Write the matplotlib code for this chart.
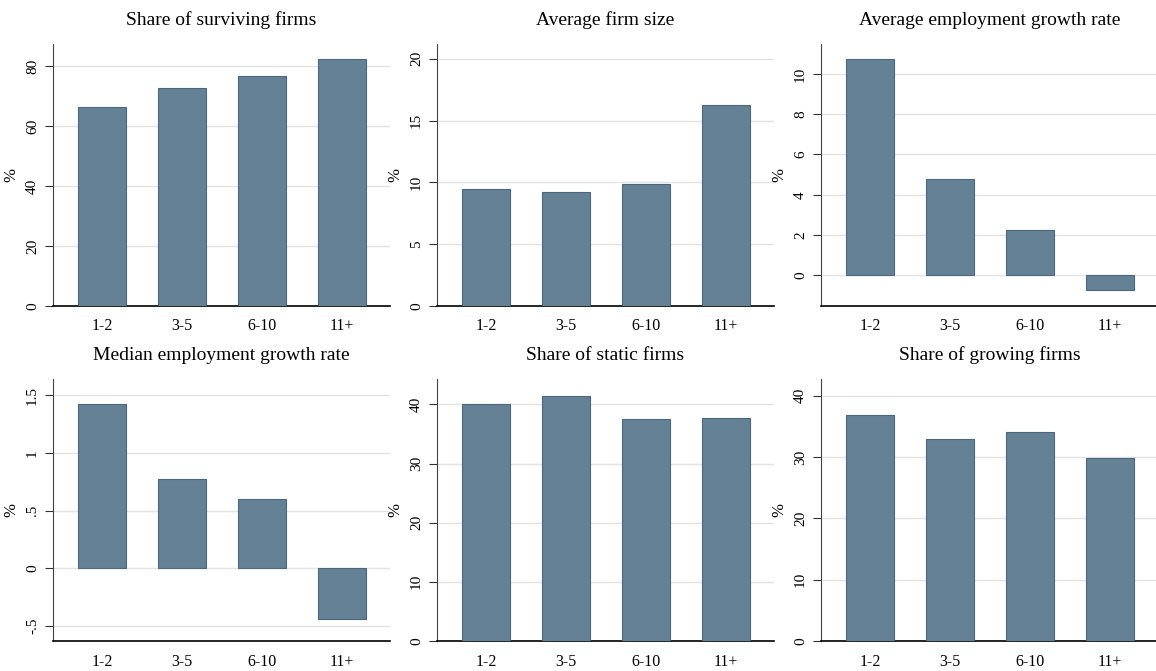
import numpy as np
import matplotlib
matplotlib.use("Agg")
from matplotlib import pyplot as plt
from matplotlib.ticker import FuncFormatter

# Firm age groups and indicators
age_groups = ['1-2', '3-5', '6-10', '11+']

surviving = [66.2, 72.8, 76.7, 82.2]
firm_size = [9.43, 9.19, 9.87, 16.27]
avg_growth = [10.73, 4.78, 2.23, -0.73]
median_growth = [1.42, 0.774, 0.598, -0.437]
static = [40.15, 41.5, 37.5, 37.7]
growing = [36.9, 32.95, 34.1, 29.75]

titles = ['Share of surviving firms', 'Average firm size',
          'Average employment growth rate', 'Median employment growth rate',
          'Share of static firms', 'Share of growing firms']
series = [surviving, firm_size, avg_growth, median_growth, static, growing]
yticks = [[0, 20, 40, 60, 80], [0, 5, 10, 15, 20], [0, 2, 4, 6, 8, 10],
          [-0.5, 0, 0.5, 1, 1.5], [0, 10, 20, 30, 40], [0, 10, 20, 30, 40]]
ylims = [(0, 87.3), (0, 21.2), (-1.53, 11.49), (-0.63, 1.64), (0, 44.3), (0, 42.7)]

bar_color = '#648196'
edge_color = '#4a6780'
plt.rcParams['font.family'] = ['Liberation Serif', 'DejaVu Serif']


def stata_fmt(v, pos):
    # Stata style: drop leading zero, no trailing .0
    s = ('%g' % v)
    if s.startswith('0.'):
        s = s[1:]
    elif s.startswith('-0.'):
        s = '-' + s[2:]
    return s


fig = plt.figure(figsize=(11.56, 6.71), dpi=100)
W, H = 1156, 671
lefts = [53, 437, 821]
tops = [44, 379]
aw, ah = 337, 262

x = np.arange(1, len(age_groups) + 1)
for i, (vals, title) in enumerate(zip(series, titles)):
    r, c = divmod(i, 3)
    ax = fig.add_axes([lefts[c] / W, 1 - (tops[r] + ah) / H, aw / W, ah / H])
    ax.bar(x, vals, width=0.6, color=bar_color, edgecolor=edge_color,
           linewidth=0.8, zorder=3)
    ax.set_xlim(0.39, 4.6)
    ax.set_ylim(*ylims[i])
    ax.set_yticks(yticks[i])
    ax.yaxis.set_major_formatter(FuncFormatter(stata_fmt))
    ax.set_xticks(x)
    ax.set_xticklabels(age_groups)
    ax.tick_params(axis='x', length=0, pad=9, labelsize=11.5)
    ax.tick_params(axis='y', length=6, width=0.8, color='#333333',
                   labelsize=11, pad=4)
    for lab in ax.get_yticklabels():
        lab.set_rotation(90)
        lab.set_va('center')
    ax.grid(axis='y', color='#e3e3e3', linewidth=1, zorder=0)
    ax.spines['top'].set_visible(False)
    ax.spines['right'].set_visible(False)
    ax.spines['left'].set_color('#444444')
    ax.spines['bottom'].set_color('black')
    ax.spines['bottom'].set_linewidth(1.2)
    ax.set_ylabel('%', fontsize=12)
    ax.yaxis.set_label_coords(-0.1, 0.5)
    ax.set_title(title, fontsize=14, pad=14)

fig.savefig('out.png', dpi=100)
